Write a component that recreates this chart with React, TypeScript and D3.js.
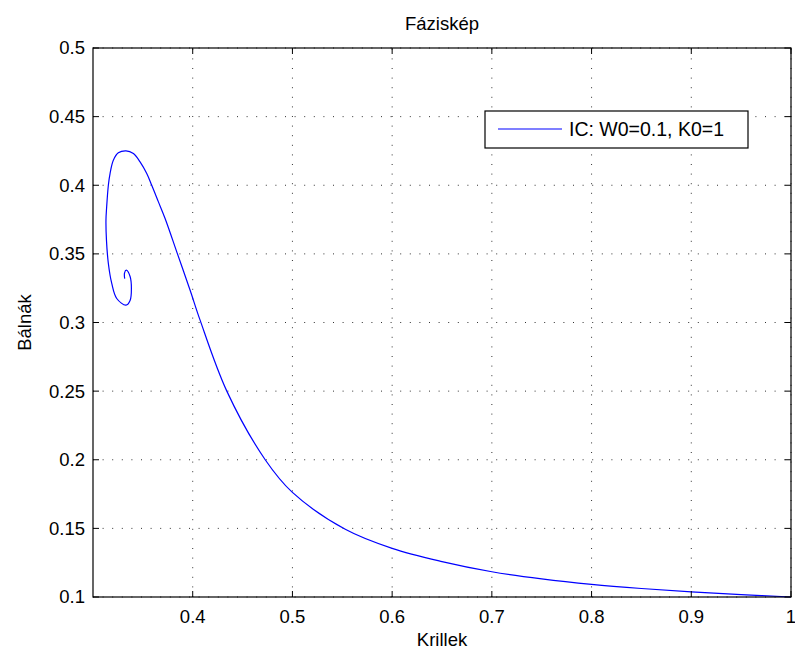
import React from "react";
import * as d3 from "d3";

const krill: number[] = [
  1.0, 0.95, 0.9, 0.85, 0.8, 0.75, 0.7, 0.65, 0.6, 0.553, 0.5, 0.4727, 0.4342, 0.4074,
  0.3974, 0.3847, 0.3723, 0.3656, 0.3589, 0.3539, 0.3472, 0.3405, 0.3331, 0.3254, 0.3204,
  0.3171, 0.3154, 0.3137, 0.313, 0.3135, 0.3154, 0.3188, 0.3238, 0.3331, 0.3372, 0.3385,
  0.3372, 0.3334, 0.3316, 0.3318,
];
const whales: number[] = [
  0.1, 0.1018, 0.1038, 0.1062, 0.1092, 0.1132, 0.1184, 0.1258, 0.1354, 0.1493, 0.1762,
  0.2, 0.25, 0.3017, 0.3235, 0.35, 0.3758, 0.3879, 0.4, 0.4085, 0.417, 0.4231, 0.4251,
  0.4236, 0.4182, 0.4085, 0.4, 0.3842, 0.3745, 0.36, 0.343, 0.3285, 0.3175, 0.3126, 0.316,
  0.3248, 0.3335, 0.3381, 0.336, 0.332,
];
const xTicks: number[] = [0.4, 0.5, 0.6, 0.7, 0.8, 0.9, 1];
const xTickLabels: string[] = ["0.4", "0.5", "0.6", "0.7", "0.8", "0.9", "1"];
const yTicks: number[] = [0.1, 0.15, 0.2, 0.25, 0.3, 0.35, 0.4, 0.45, 0.5];
const yTickLabels: string[] = ["0.1", "0.15", "0.2", "0.25", "0.3", "0.35", "0.4", "0.45", "0.5"];
const title = "Fáziskép";
const xLabel = "Krillek";
const yLabel = "Bálnák";
const legendLabel = "IC: W0=0.1, K0=1";

export default function App() {
  const W = 795, H = 657;
  const L = 93, R = 791, T = 48, B = 597;
  const x = d3.scaleLinear().domain([0.3, 1]).range([L, R]);
  const y = d3.scaleLinear().domain([0.1, 0.5]).range([B, T]);
  const pts: [number, number][] = krill.map((k, i) => [k, whales[i]]);
  const line = d3
    .line<[number, number]>()
    .x((d) => x(d[0]))
    .y((d) => y(d[1]))
    .curve(d3.curveCatmullRom.alpha(0.5));
  const font = "'Liberation Sans', Arial, Helvetica, sans-serif";
  const fs = 18.5;
  const tk = 6;
  const grid = { stroke: "#333", strokeWidth: 1, strokeDasharray: "1,8.6" };
  return (
    <svg width={W} height={H} style={{ position: "absolute", left: 0, top: 0, background: "#fff" }}
      fontFamily={font}>
      <rect x={0} y={0} width={W} height={H} fill="#fff" />
      {xTicks.map((t) => (
        <line key={"gx" + t} x1={x(t)} x2={x(t)} y1={B} y2={T} {...grid} />
      ))}
      {yTicks.map((t) => (
        <line key={"gy" + t} x1={L} x2={R} y1={y(t)} y2={y(t)} {...grid} />
      ))}
      <path d={line(pts) || ""} fill="none" stroke="#0000ff" strokeWidth={1.2} />
      {xTicks.map((t) => (
        <g key={"tx" + t}>
          <line x1={x(t)} x2={x(t)} y1={B} y2={B - tk} stroke="#000" />
          <line x1={x(t)} x2={x(t)} y1={T} y2={T + tk} stroke="#000" />
        </g>
      ))}
      {yTicks.map((t) => (
        <g key={"ty" + t}>
          <line x1={L} x2={L + tk} y1={y(t)} y2={y(t)} stroke="#000" />
          <line x1={R} x2={R - tk} y1={y(t)} y2={y(t)} stroke="#000" />
        </g>
      ))}
      <rect x={L} y={T} width={R - L} height={B - T} fill="none" stroke="#000" strokeWidth={1.2} />
      {xTicks.map((t, i) => (
        <text key={"lx" + t} x={x(t)} y={623} textAnchor="middle" fontSize={fs} fill="#000">
          {xTickLabels[i]}
        </text>
      ))}
      {yTicks.map((t, i) => (
        <text key={"ly" + t} x={85} y={y(t)} dy="0.35em" textAnchor="end" fontSize={fs} fill="#000">
          {yTickLabels[i]}
        </text>
      ))}
      <text x={(L + R) / 2} y={30} textAnchor="middle" fontSize={fs} fill="#000">{title}</text>
      <text x={(L + R) / 2} y={646} textAnchor="middle" fontSize={fs} fill="#000">{xLabel}</text>
      <text transform={`translate(31,${(T + B) / 2}) rotate(-90)`} textAnchor="middle" fontSize={fs} fill="#000">
        {yLabel}
      </text>
      <rect x={485} y={111} width={263} height={37} fill="#fff" stroke="#000" strokeWidth={1.2} />
      <line x1={498} x2={562} y1={129} y2={129} stroke="#0000ff" strokeWidth={1.2} />
      <text x={569} y={129} dy="0.35em" fontSize={19.5} fill="#000">{legendLabel}</text>
    </svg>
  );
}
